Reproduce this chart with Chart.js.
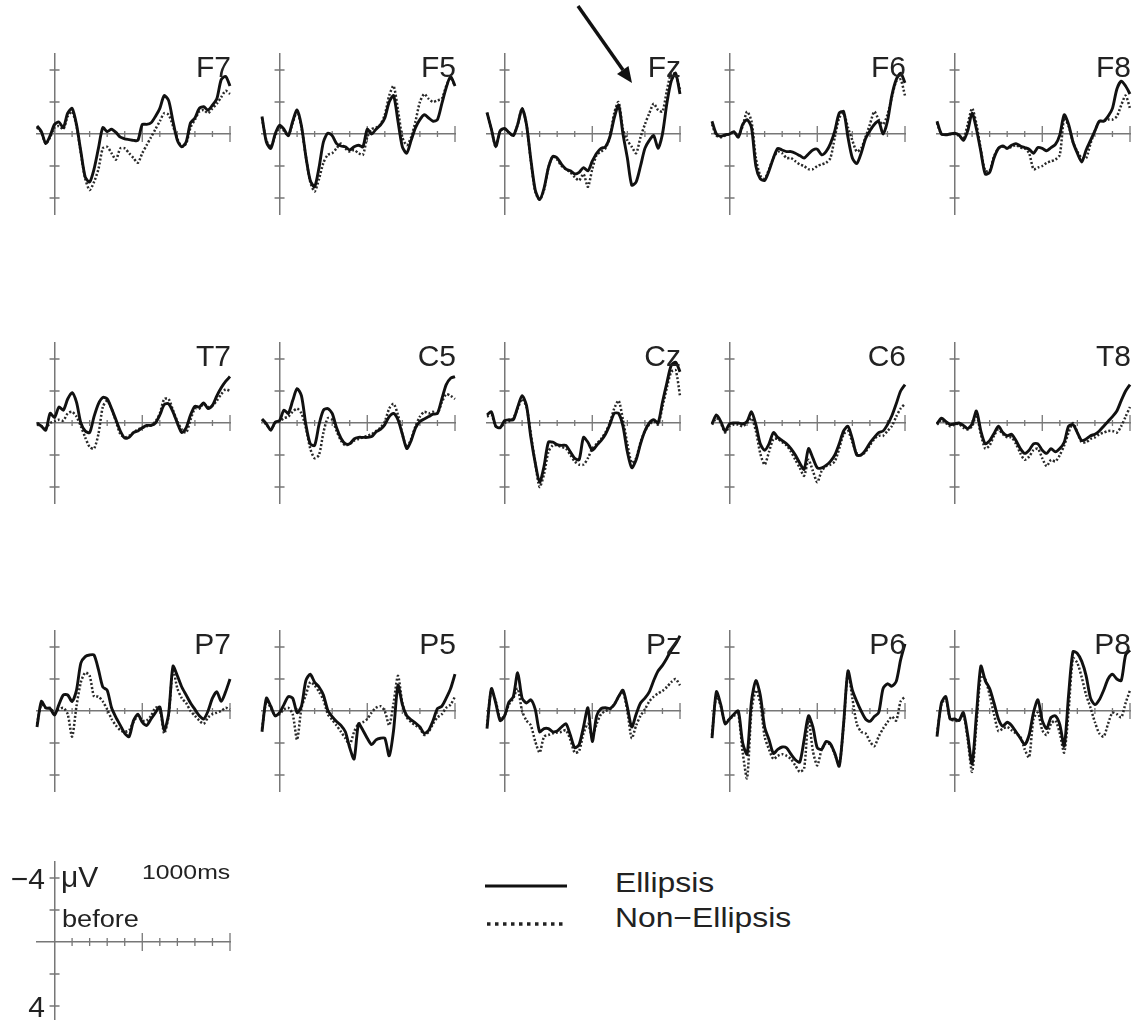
<!DOCTYPE html>
<html>
<head>
<meta charset="utf-8">
<script src="https://cdn.jsdelivr.net/npm/chart.js@4.4.0/dist/chart.umd.min.js"></script>
<style>
  body { margin:0; width:1135px; height:1020px; overflow:hidden; background:#fff; position:relative;
         font-family:"Liberation Sans", Arial, sans-serif; color:#222; }
  canvas { position:absolute; }
  .lbl { position:absolute; white-space:nowrap; }
  .elec { font-size:30px; line-height:30px; width:100px; text-align:right; }
  .big { font-size:30px; line-height:30px; }
  .wide { transform:scaleX(1.18); transform-origin:left top; }
  svg { position:absolute; left:0; top:0; }
</style>
</head>
<body>
<svg width="1135" height="1020">
  <!-- arrow pointing at Fz -->
  <line x1="578" y1="6" x2="623" y2="70" stroke="#111" stroke-width="3.5"/>
  <polygon points="632,83 617,74 628.5,66" fill="#111"/>
  <!-- condition legend -->
  <line x1="485" y1="886" x2="567" y2="886" stroke="#111" stroke-width="3"/>
  <line x1="487" y1="924" x2="567" y2="924" stroke="#222" stroke-width="3.5" stroke-dasharray="3.5 4.5"/>
</svg>
<script>
// time points (ms) and axis ticks
var TIMES = [-100,-75,-50,-25,0,25,50,75,100,125,150,175,200,225,250,275,300,325,350,375,400,425,450,475,500,525,550,575,600,625,650,675,700,725,750,775,800,825,850,875,900,925,950,975,1000];
var MS_TICKS = [100,200,300,400,500,600,700,800,900,1000];
var UV_TICKS = [-4,-2,2,4];
var ELECTRODES = [['F7','F5','Fz','F6','F8'], ['T7','C5','Cz','C6','T8'], ['P7','P5','Pz','P6','P8']];

// amplitudes in microvolts (negative plotted up), Ellipsis / Non-Ellipsis
var F7_ell = [-0.5,-0.15,0.6,0.1,-0.6,-0.75,-0.4,-1.3,-1.6,
  -0.6,1.1,2.7,3.0,2.2,0.9,-0.4,-0.15,-0.3,
  -0.1,0.2,0.3,0.35,0.4,0.4,-0.6,-0.6,-0.7,
  -1.1,-1.6,-2.4,-2.1,-0.8,0.4,0.8,0.5,-0.7,
  -1.0,-1.6,-1.7,-1.5,-1.8,-2.2,-3.4,-3.6,-3.0];
var F7_non = [-0.4,-0.1,0.6,0.2,-0.4,-0.5,-0.3,-1.1,-1.4,
  -0.5,1.2,2.8,3.5,3.0,2.2,0.9,0.8,1.2,
  1.6,0.9,0.9,1.2,1.5,1.8,1.2,0.7,0.2,
  -0.3,-0.8,-1.3,-1.2,-0.5,0.3,0.8,0.6,-0.4,
  -0.9,-1.4,-1.5,-1.3,-1.6,-1.9,-2.3,-2.7,-2.5];
var F5_ell = [-1.1,0.5,0.9,0.0,-0.55,-0.3,0.1,-0.8,-1.5,
  -0.5,1.4,2.9,3.3,2.1,0.5,-0.05,0.1,0.6,
  0.75,0.8,1.0,0.8,0.7,0.8,-0.3,0.0,-0.3,
  -0.55,-1.0,-2.0,-2.4,-0.8,0.8,1.2,0.4,-0.4,
  -0.9,-1.2,-1.0,-0.8,-0.9,-1.9,-2.9,-3.6,-3.0];
var F5_non = [-1.0,0.4,0.8,0.1,-0.4,-0.2,0.1,-0.7,-1.4,
  -0.4,1.4,3.0,3.6,2.8,1.8,1.3,1.2,0.9,
  0.6,0.9,1.1,1.0,1.2,1.3,0.2,-0.3,-0.4,
  -0.6,-1.2,-2.4,-3.0,-1.5,0.2,0.7,0.2,-0.8,
  -2.0,-2.5,-2.2,-2.0,-2.1,-2.2,-3.0,-3.5,-3.0];
var Fz_ell = [-1.35,-0.3,0.8,-0.2,-0.35,-0.1,0.1,-0.6,-1.6,
  -0.6,1.6,3.5,4.1,3.4,2.1,1.4,1.5,1.9,
  2.2,2.3,2.5,2.4,2.1,2.3,1.7,1.2,0.9,
  0.8,0.2,-1.0,-1.8,0.0,1.5,3.2,3.0,2.0,
  0.9,0.4,0.1,0.9,0.0,-1.9,-3.3,-3.8,-2.5];
var Fz_non = [-1.3,-0.3,0.8,-0.2,-0.3,-0.1,0.1,-0.6,-1.6,
  -0.6,1.7,3.6,4.1,3.5,2.1,1.4,1.6,2.0,
  2.2,2.4,2.7,2.9,2.5,3.3,2.2,1.3,1.1,
  0.9,0.2,-1.3,-2.0,-0.3,0.4,0.8,1.2,0.2,
  -0.6,-1.3,-1.9,-1.5,-1.4,-2.7,-3.8,-3.7,-2.8];
var F6_ell = [-0.8,0.0,0.15,0.05,0.0,-0.15,0.2,-0.6,-0.9,
  -0.4,2.0,2.8,2.9,2.3,1.5,0.9,1.0,1.1,
  1.1,1.2,1.35,1.5,1.25,1.0,0.95,1.3,1.1,
  0.6,-0.2,-1.3,-1.4,0.2,1.5,1.85,1.2,0.3,
  -0.2,-0.6,-0.8,0.0,-0.8,-2.4,-3.4,-3.8,-3.2];
var F6_non = [-0.6,0.1,0.2,0.1,0.0,-0.1,0.1,-0.5,-1.4,
  -0.8,1.5,2.6,2.8,2.2,1.5,1.1,1.2,1.5,
  1.5,1.7,1.9,2.0,2.2,2.2,2.0,1.9,1.8,
  1.5,0.2,-1.0,-1.3,-0.4,0.4,1.1,0.9,0.2,
  -0.6,-1.4,-0.9,-0.6,-1.2,-2.3,-3.3,-3.4,-2.4];
var F8_ell = [-0.8,0.0,0.05,0.0,-0.05,0.05,0.4,-0.2,-1.3,
  -0.3,1.1,2.5,2.4,1.5,0.9,0.75,0.9,0.7,
  0.6,0.75,0.85,0.95,1.2,0.85,0.9,1.05,0.85,
  0.65,0.05,-1.2,-0.6,0.5,1.2,1.75,1.0,0.4,
  -0.2,-0.8,-0.8,-1.1,-1.6,-2.8,-3.3,-3.0,-2.5];
var F8_non = [-0.7,0.0,0.05,0.0,0.0,0.1,0.3,-0.6,-1.6,
  -0.6,1.0,2.3,2.3,1.4,0.9,0.8,0.9,0.8,
  0.7,0.85,0.9,1.2,2.2,2.1,2.0,1.8,1.7,
  1.6,1.3,-1.0,-0.5,0.5,1.1,1.5,1.5,0.6,
  -0.2,-0.8,-0.8,-0.9,-0.9,-1.1,-1.8,-2.4,-1.6];

var T7_ell = [0.0,0.2,0.45,-0.6,-0.35,-1.0,-0.8,-1.5,-1.9,
  -1.3,0.0,0.5,0.6,-0.4,-1.2,-1.6,-1.5,-0.9,
  -0.2,0.5,0.95,0.9,0.6,0.5,0.3,0.15,0.15,
  0.0,-0.5,-1.15,-1.2,-0.7,0.0,0.6,0.3,-0.5,
  -1.05,-1.0,-1.25,-0.9,-1.1,-1.7,-2.2,-2.6,-2.9];
var T7_non = [0.1,0.2,0.3,0.0,-0.1,-0.2,-0.15,-0.6,-0.7,
  -0.4,0.2,0.9,1.5,1.6,0.7,-1.0,-1.4,-0.9,
  -0.1,0.7,0.9,0.8,0.6,0.4,0.3,0.2,0.15,
  -0.1,-0.6,-1.5,-1.5,-0.8,-0.1,0.4,0.6,-0.2,
  -0.9,-0.9,-1.2,-1.0,-1.1,-1.4,-1.8,-2.1,-2.0];
var C5_ell = [-0.25,0.05,0.45,-0.05,-0.15,-0.8,-0.6,-1.4,-2.15,
  -1.7,0.1,1.3,1.4,0.1,-0.8,-0.9,-0.6,0.3,
  0.95,1.3,1.3,1.0,0.9,0.9,0.9,0.85,0.55,
  0.4,0.1,-0.4,-0.6,-0.2,0.7,1.6,1.1,0.3,
  -0.1,-0.25,-0.4,-0.55,-0.6,-1.5,-2.4,-2.8,-2.9];
var C5_non = [-0.2,0.1,0.4,0.0,-0.1,-0.3,-0.4,-0.7,-0.9,
  -0.6,0.3,1.6,2.2,2.0,0.6,-0.3,-0.2,0.5,
  1.1,1.4,1.3,1.1,1.0,0.9,0.8,0.7,0.5,
  0.3,-0.1,-0.9,-1.2,-0.5,0.7,1.5,1.0,0.2,
  -0.4,-0.7,-0.6,-0.7,-0.6,-1.3,-1.8,-1.7,-1.5];
var Cz_ell = [-0.5,-0.7,0.2,0.3,-0.15,-0.2,-0.2,-1.0,-1.7,
  -1.1,0.9,2.5,3.7,2.7,1.2,1.2,1.35,1.4,
  1.4,1.8,2.2,2.3,0.9,1.2,1.7,1.4,1.1,
  0.7,0.1,-0.6,-0.6,0.2,1.8,2.8,2.3,1.3,
  0.5,0.0,-0.2,0.0,-1.3,-2.5,-3.6,-3.8,-3.2];
var Cz_non = [-0.4,-0.5,0.2,0.3,0.0,-0.1,-0.3,-0.9,-1.5,
  -1.0,0.7,2.5,4.0,3.2,1.8,1.4,1.4,1.5,
  1.6,2.0,2.4,2.6,2.6,2.2,1.6,1.3,1.0,
  0.6,0.0,-0.9,-1.4,-0.2,1.3,2.5,2.2,1.2,
  0.5,0.1,-0.1,0.1,-1.0,-2.2,-3.2,-3.3,-1.7];
var C6_ell = [0.05,-0.5,-0.1,0.5,0.05,0.0,0.0,0.05,-0.1,
  -0.7,0.1,1.3,1.7,1.3,0.6,0.9,1.1,1.3,
  1.6,2.0,2.5,2.9,1.6,2.2,2.8,2.8,2.65,
  2.4,2.0,1.3,0.5,0.2,1.0,2.0,2.0,1.7,
  1.25,0.9,0.6,0.5,0.1,-0.45,-1.2,-2.0,-2.4];
var C6_non = [0.1,-0.3,0.0,0.6,0.2,0.1,0.1,0.2,0.0,
  -0.3,0.5,1.9,2.6,1.8,1.0,1.0,1.2,1.4,
  1.8,2.3,2.8,3.3,2.3,3.0,3.7,3.0,2.7,
  2.6,2.4,1.6,0.7,0.5,1.2,1.9,2.0,1.8,
  1.4,1.0,0.8,0.8,0.5,0.2,-0.4,-0.9,-1.2];
var T8_ell = [0.05,-0.3,-0.1,0.1,0.05,0.0,0.15,0.35,0.05,
  -0.75,0.5,1.3,1.1,0.65,0.2,0.6,0.8,0.7,
  1.1,1.6,1.9,1.7,1.3,1.3,1.7,1.9,1.6,
  1.8,1.6,1.2,0.2,0.1,0.6,1.1,1.0,0.8,
  0.7,0.5,0.2,-0.1,-0.4,-0.75,-1.4,-2.0,-2.4];
var T8_non = [0.1,-0.2,0.0,0.2,0.1,0.05,0.3,0.4,0.2,
  -0.5,0.7,1.6,1.4,0.8,0.4,0.7,0.9,0.9,
  1.3,1.9,2.3,2.1,1.7,1.6,2.2,2.7,2.3,
  2.4,2.0,1.4,0.6,0.0,0.6,1.2,1.2,1.0,
  0.9,0.7,0.6,0.5,0.5,0.6,0.2,-0.4,-1.0];

var P7_ell = [1.0,-0.6,-0.2,-0.15,0.25,-0.4,-1.0,-1.0,-0.6,
  -1.3,-3.0,-3.4,-3.5,-3.5,-2.6,-1.5,-1.3,-0.2,
  0.4,0.9,1.4,1.6,0.6,0.2,0.7,0.9,0.5,
  0.1,-0.25,1.2,0.2,-2.8,-2.2,-1.5,-1.0,-0.5,
  -0.1,0.3,0.5,0.0,-0.8,-1.2,-0.6,-1.2,-2.0];
var P7_non = [0.8,-0.4,-0.2,-0.2,0.1,-0.1,-0.2,0.2,1.6,
  -0.3,-1.8,-2.4,-2.2,-0.9,-0.9,-0.6,-0.1,0.5,
  0.9,1.2,1.3,1.2,0.7,0.3,0.6,0.6,0.3,
  -0.2,-0.2,1.4,0.3,-2.6,-1.4,-0.8,-0.5,0.0,
  0.3,0.6,0.8,0.4,0.2,0.1,0.0,-0.2,-0.1];
var P5_ell = [1.3,-0.8,-0.3,0.3,0.1,-0.4,-0.9,-0.8,0.1,
  -0.3,-1.9,-2.3,-1.8,-1.5,-1.0,-0.05,0.35,0.65,
  0.9,1.3,2.3,3.0,0.8,1.2,1.7,2.1,1.8,
  1.7,1.7,2.8,1.2,-1.6,-0.4,0.3,0.55,0.75,
  1.0,1.4,1.2,0.6,-0.15,-0.3,-0.8,-1.4,-2.3];
var P5_non = [1.1,-0.6,-0.2,0.3,0.2,-0.1,-0.2,0.2,1.8,
  -0.2,-1.0,-1.8,-1.6,-1.2,-0.7,0.2,0.55,0.9,
  1.3,1.7,2.1,1.3,0.8,0.7,0.5,0.1,-0.2,
  -0.3,0.0,0.9,-0.5,-2.2,-0.5,0.4,0.7,0.9,
  1.1,1.5,1.3,0.8,0.4,0.2,-0.2,-0.4,-0.9];
var Pz_ell = [1.1,-1.4,-0.5,0.6,0.3,-0.55,-0.9,-2.4,-0.8,
  -0.5,-0.7,-0.1,1.3,1.1,1.1,1.3,1.25,1.0,
  0.8,1.5,2.3,2.1,1.0,-0.2,1.9,0.3,-0.15,
  -0.2,-0.15,-0.4,-0.9,-1.3,-0.25,1.0,0.2,-0.5,
  -0.8,-1.2,-1.9,-2.5,-2.85,-3.3,-3.8,-4.2,-4.7];
var Pz_non = [0.9,-1.3,-0.6,0.5,0.3,-0.4,-0.8,-1.4,0.0,
  0.6,0.9,1.9,2.6,1.6,1.5,1.4,1.35,1.3,
  1.2,1.8,2.6,2.5,1.4,0.8,1.6,0.8,0.2,
  0.0,-0.1,-0.4,-0.9,-1.2,0.0,1.7,0.9,0.3,
  -0.1,-0.6,-0.9,-1.1,-1.25,-1.5,-1.8,-2.0,-1.6];
var P6_ell = [1.7,-1.2,-0.4,0.8,0.5,0.2,0.0,2.0,2.7,
  -0.6,-1.9,-1.0,1.0,1.8,2.65,2.4,2.25,2.3,
  2.7,3.05,3.2,1.8,0.3,1.0,2.3,2.4,1.9,
  2.05,2.65,3.45,0.8,-2.5,-1.3,-0.6,0.0,0.5,
  0.65,0.35,0.1,-1.4,-1.7,-1.55,-1.85,-3.2,-4.2];
var P6_non = [1.5,-1.0,-0.3,0.7,0.5,0.3,0.2,2.6,4.2,
  0.0,-1.3,-0.5,1.6,2.4,3.0,2.8,2.7,2.8,
  3.0,3.4,3.8,3.6,0.5,2.5,3.4,2.4,2.0,
  2.1,2.7,3.4,0.9,-2.4,-0.8,0.8,1.3,1.4,
  1.9,2.2,1.6,1.1,0.7,0.35,0.6,-0.6,-0.9];
var P8_ell = [1.6,-0.5,-0.9,0.5,0.5,0.6,0.1,1.5,3.3,
  0.2,-2.8,-1.9,-1.4,-0.5,0.5,0.95,0.7,0.9,
  1.3,1.7,2.1,1.5,0.1,-0.7,0.6,1.1,0.4,
  0.3,0.85,2.2,-1.0,-3.7,-3.6,-3.1,-2.2,-0.8,
  -0.4,-0.7,-1.3,-2.0,-2.3,-2.0,-1.9,-3.5,-3.8];
var P8_non = [1.4,-0.4,-0.8,0.5,0.6,0.6,0.2,1.8,3.8,
  0.8,-2.2,-2.0,-1.0,0.2,1.25,1.1,1.0,1.2,
  1.4,1.6,2.4,2.9,0.5,0.1,1.2,1.5,0.8,
  0.6,1.4,2.6,0.0,-3.3,-3.0,-2.1,-1.0,-0.2,
  0.7,1.4,1.6,0.8,0.1,0.2,0.4,-0.5,-1.3];

var SERIES = {
  F7:[F7_ell,F7_non], F5:[F5_ell,F5_non], Fz:[Fz_ell,Fz_non], F6:[F6_ell,F6_non], F8:[F8_ell,F8_non],
  T7:[T7_ell,T7_non], C5:[C5_ell,C5_non], Cz:[Cz_ell,Cz_non], C6:[C6_ell,C6_non], T8:[T8_ell,T8_non],
  P7:[P7_ell,P7_non], P5:[P5_ell,P5_non], Pz:[Pz_ell,Pz_non], P6:[P6_ell,P6_non], P8:[P8_ell,P8_non]
};

// page layout (px): vertical-axis x of each column, zero line y of each row
var COL_X = [55, 280, 505, 730, 955];
var ROW_Y = [134, 423, 711];

// tick marks that cross the axes
var tickMarks = {
  id: 'tickMarks',
  beforeDatasetsDraw: function(chart, args, opts) {
    var ctx = chart.ctx, xs = chart.scales.x, ys = chart.scales.y;
    var zy = ys.getPixelForValue(0), zx = xs.getPixelForValue(0);
    ctx.save();
    ctx.strokeStyle = '#777';
    ctx.lineWidth = 1.3;
    ctx.beginPath();
    MS_TICKS.forEach(function(t) {
      var px = xs.getPixelForValue(t);
      var len = (t % 500 === 0) ? opts.major : opts.minor;
      ctx.moveTo(px, zy - len);
      ctx.lineTo(px, zy + len);
    });
    UV_TICKS.forEach(function(v) {
      var py = ys.getPixelForValue(v);
      ctx.moveTo(zx - 5, py);
      ctx.lineTo(zx + 5, py);
    });
    ctx.stroke();
    ctx.restore();
  }
};

function axis(min, max, pos, rev) {
  return {
    type: 'linear', min: min, max: max, reverse: rev, position: pos,
    grid: { display: false, drawTicks: false, tickLength: 0 },
    ticks: { display: false },
    border: { display: true, color: '#777', width: 1.5 }
  };
}

function toPoints(vals) {
  return TIMES.map(function(t, i) { return { x: t, y: vals[i] }; });
}

function addPanel(x0, zero, sets, ticks) {
  var cv = document.createElement('canvas');
  cv.width = 205; cv.height = 172;
  cv.style.left = (x0 - 24) + 'px';
  cv.style.top = (zero - 86) + 'px';
  document.body.appendChild(cv);
  var ds = [];
  if (sets) {
    ds.push({ label: 'Ellipsis', data: toPoints(sets[0]), borderColor: '#111', borderWidth: 2.9,
              pointRadius: 0, tension: 0.25, clip: 6 });
    ds.push({ label: 'Non-Ellipsis', data: toPoints(sets[1]), borderColor: '#2a2a2a', borderWidth: 2.5,
              borderDash: [2, 2], pointRadius: 0, tension: 0.25, clip: 6 });
  }
  return new Chart(cv, {
    type: 'line',
    data: { datasets: ds },
    options: {
      responsive: false, animation: false, events: [],
      layout: { padding: 6 },
      plugins: { legend: { display: false }, tooltip: { enabled: false }, tickMarks: ticks },
      scales: { x: axis(-100, 1000, { y: 0 }, false), y: axis(-5, 5, { x: 0 }, true) }
    },
    plugins: [tickMarks]
  });
}

function addText(txt, cls, left, top) {
  var d = document.createElement('div');
  d.className = 'lbl ' + cls;
  d.textContent = txt;
  d.style.left = left + 'px';
  d.style.top = top + 'px';
  document.body.appendChild(d);
  return d;
}

ELECTRODES.forEach(function(row, r) {
  row.forEach(function(name, c) {
    addPanel(COL_X[c], ROW_Y[r], SERIES[name], { minor: 3, major: 8 });
    addText(name, 'elec', COL_X[c] + 176 - 100, ROW_Y[r] - 82);
  });
});

// calibration panel
addPanel(55, 942, null, { minor: 4, major: 9 });
var m4 = addText('\u22124', 'big', -55, 864); m4.style.width = '100px'; m4.style.textAlign = 'right';
var p4 = addText('4', 'big', -55, 992); p4.style.width = '100px'; p4.style.textAlign = 'right';
addText('\u03bcV', 'big', 61, 862);
var ms = addText('1000ms', 'wide', 142, 861); ms.style.fontSize = '21px'; ms.style.lineHeight = '21px';
var bf = addText('before', 'wide', 62, 908); bf.style.fontSize = '23px'; bf.style.lineHeight = '23px';

// condition legend text
var e1 = addText('Ellipsis', 'wide', 615, 870); e1.style.fontSize = '27px'; e1.style.lineHeight = '27px';
var e2 = addText('Non\u2212Ellipsis', 'wide', 615, 905); e2.style.fontSize = '27px'; e2.style.lineHeight = '27px';
</script>
</body>
</html>
